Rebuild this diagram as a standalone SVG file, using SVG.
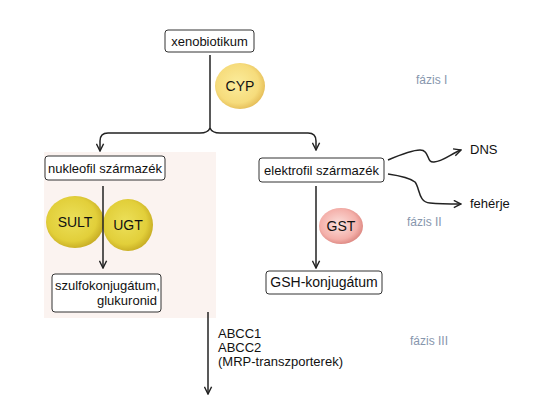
<svg xmlns="http://www.w3.org/2000/svg" width="542" height="415" viewBox="0 0 542 415">
<defs>
<radialGradient id="gY" cx="0.45" cy="0.45" r="0.6"><stop offset="0" stop-color="#fbec9c"/><stop offset="0.7" stop-color="#f6dc7c"/><stop offset="1" stop-color="#e2b852"/></radialGradient>
<radialGradient id="gO" cx="0.45" cy="0.45" r="0.6"><stop offset="0" stop-color="#ece05a"/><stop offset="0.7" stop-color="#e2cf3a"/><stop offset="1" stop-color="#c2a620"/></radialGradient>
<radialGradient id="gP" cx="0.45" cy="0.45" r="0.6"><stop offset="0" stop-color="#fbe0dc"/><stop offset="0.7" stop-color="#f4b0aa"/><stop offset="1" stop-color="#d8807a"/></radialGradient>
<marker id="ah" viewBox="0 0 10 10" refX="9" refY="5" markerWidth="9" markerHeight="9" orient="auto" markerUnits="userSpaceOnUse"><path d="M1,1 L9,5 L1,9" fill="none" stroke="#222" stroke-width="1.6"/></marker>
</defs>
<style>
text{font-family:"Liberation Sans",Arial,sans-serif;font-size:13px;fill:#111}
.box{fill:#fff;stroke:#333;stroke-width:1}
.ln{fill:none;stroke:#222;stroke-width:1.5}
.ph{fill:#8796ad;font-size:12px}
.en{font-size:14px;text-anchor:middle}
</style>
<rect width="542" height="415" fill="#fff"/>
<rect x="44" y="152" width="172" height="166" fill="#fbf3f0"/>
<g id="phases">
<text class="ph" x="416" y="84">fázis I</text>
<text class="ph" x="407" y="226">fázis II</text>
<text class="ph" x="410" y="345">fázis III</text>
</g>
<g id="enzymes">
<ellipse cx="240" cy="86" rx="25" ry="23" fill="url(#gY)"/>
<text class="en" x="240" y="91">CYP</text>
<ellipse cx="75" cy="222" rx="29" ry="26" fill="url(#gO)"/>
<text class="en" x="75" y="227">SULT</text>
<ellipse cx="128" cy="225" rx="25" ry="26" fill="url(#gO)"/>
<text class="en" x="128" y="230">UGT</text>
<ellipse cx="341" cy="226" rx="22" ry="18" fill="url(#gP)"/>
<text class="en" x="341" y="231">GST</text>
</g>
<g id="connectors">
<path class="ln" d="M210,55 V128"/>
<path class="ln" d="M210,128 Q208,133 200,133 H108 Q100,133 100,141 V151" marker-end="url(#ah)"/>
<path class="ln" d="M210,128 Q212,133 220,133 H308 Q316,133 316,141 V150" marker-end="url(#ah)"/>
<path class="ln" d="M103,186 V268" marker-end="url(#ah)"/>
<path class="ln" d="M316,186 V268" marker-end="url(#ah)"/>
<path class="ln" d="M388,160 C402,154 414,150 420,150 C430,150 426,163 434,162 C444,161 452,153 461,150" marker-end="url(#ah)"/>
<path class="ln" d="M388,174 C402,176 410,178 415,182 C420,188 418,202 430,203 C440,204 452,204 461,204" marker-end="url(#ah)"/>
<path class="ln" d="M208,312 V394" marker-end="url(#ah)"/>
</g>
<g id="xenobiotikum">
<rect class="box" x="165" y="30" width="89" height="22" rx="3"/>
<text x="209.5" y="45.5" text-anchor="middle">xenobiotikum</text>
</g>
<g id="nukleofil">
<rect class="box" x="45" y="156" width="120" height="24" rx="3"/>
<text x="105" y="172.5" text-anchor="middle">nukleofil származék</text>
</g>
<g id="elektrofil">
<rect class="box" x="259" y="158" width="125" height="24" rx="3"/>
<text x="321.5" y="174.5" text-anchor="middle">elektrofil származék</text>
</g>
<g id="szulfo">
<rect class="box" x="52" y="274" width="109" height="38" rx="3"/>
<text x="55" y="290">szulfokonjugátum,</text>
<text x="157" y="305" text-anchor="end">glukuronid</text>
</g>
<g id="gsh">
<rect class="box" x="266" y="271" width="116" height="23" rx="3"/>
<text x="324" y="287" text-anchor="middle" style="font-size:14px">GSH-konjugátum</text>
</g>
<g id="labels">
<text x="470" y="154">DNS</text>
<text x="470" y="208">fehérje</text>
<text x="218" y="338">ABCC1</text>
<text x="218" y="352">ABCC2</text>
<text x="218" y="366">(MRP-transzporterek)</text>
</g>
</svg>
